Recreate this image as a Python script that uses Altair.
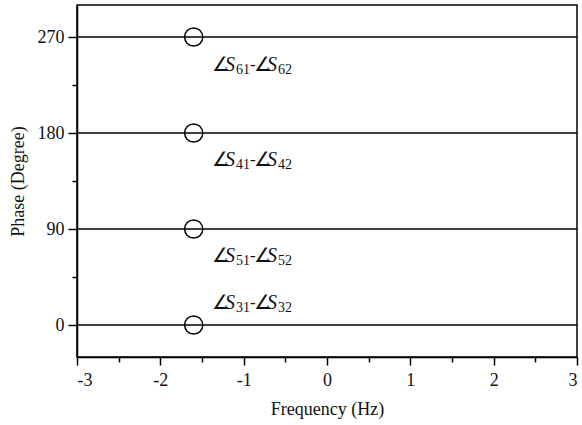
import altair as alt
import pandas as pd

# ---- data ----
phases = [0, 90, 180, 270]
line_start = [-3, -3, -3, -3]
line_end = [3, 3, 3, 3]
marker_freq = [-1.6, -1.6, -1.6, -1.6]
label_freq = [-1.38, -1.38, -1.38, -1.38]
label_phase = [21, 65, 155, 244]
sub_a = ["31", "51", "41", "61"]
sub_b = ["32", "52", "42", "62"]

x_ticks = [-3, -2.5, -2, -1.5, -1, -0.5, 0, 0.5, 1, 1.5, 2, 2.5, 3]
y_ticks = [0, 45, 90, 135, 180, 225, 270]

df = pd.DataFrame({
    "phase": phases, "x0": line_start, "x1": line_end,
    "mf": marker_freq, "lf": label_freq, "lp": label_phase,
    "sa": sub_a, "sb": sub_b,
})

FONT = "Liberation Serif"

xscale = alt.Scale(domain=[-3, 3], nice=False)
yscale = alt.Scale(domain=[-30, 300], nice=False, zero=False)

xaxis = alt.Axis(
    values=x_ticks, title="Frequency (Hz)", grid=False,
    labelExpr="datum.value % 1 === 0 ? '' + datum.value : ''",
    tickSize={"condition": {"test": "datum.value % 1 === 0", "value": 8}, "value": 5},
    labelPadding=6, titlePadding=11,
)
yaxis = alt.Axis(
    values=y_ticks, title="Phase (Degree)", grid=False,
    labelExpr="datum.value % 90 === 0 ? '' + datum.value : ''",
    tickSize={"condition": {"test": "datum.value % 90 === 0", "value": 9}, "value": 5},
    labelPadding=4, titlePadding=10,
)

base = alt.Chart(df)

lines = base.mark_rule(color="black", strokeWidth=1.5).encode(
    x=alt.X("x0:Q", scale=xscale, axis=xaxis),
    x2="x1:Q",
    y=alt.Y("phase:Q", scale=yscale, axis=yaxis),
)

circles = base.mark_point(shape="circle", filled=False, color="black",
                          size=330, strokeWidth=1.5, opacity=1).encode(
    x=alt.X("mf:Q", scale=xscale),
    y=alt.Y("phase:Q", scale=yscale),
)


def part(text, dx, size, italic=False, dy=0):
    return base.mark_text(
        align="left", baseline="middle", dx=dx, dy=dy, font=FONT,
        fontSize=size, fontStyle="italic" if italic else "normal", color="#111"
    ).encode(
        x=alt.X("lf:Q", scale=xscale),
        y=alt.Y("lp:Q", scale=yscale),
        text=text,
    )


labels = [
    part(alt.value("∠"), 0, 20),
    part(alt.value("S"), 13, 20, italic=True),
    part("sa:N", 24, 14, dy=5),
    part(alt.value("-"), 38, 17),
    part(alt.value("∠"), 42, 20),
    part(alt.value("S"), 55, 20, italic=True),
    part("sb:N", 66, 14, dy=5),
]

chart = alt.layer(lines, circles, *labels).properties(
    width=500, height=352, autosize="none", background="white",
    padding={"left": 77, "top": 5, "right": 5, "bottom": 68},
).configure_view(
    stroke="black", strokeWidth=1.5
).configure_axis(
    domainColor="black", domainWidth=1.5, tickColor="black", tickWidth=1.5,
    labelFont=FONT, labelFontSize=18, labelColor="#111",
    titleFont=FONT, titleFontSize=18, titleFontWeight="normal", titleColor="#111",
)

chart.save("out.html", embed_options={"renderer": "svg", "actions": False})
